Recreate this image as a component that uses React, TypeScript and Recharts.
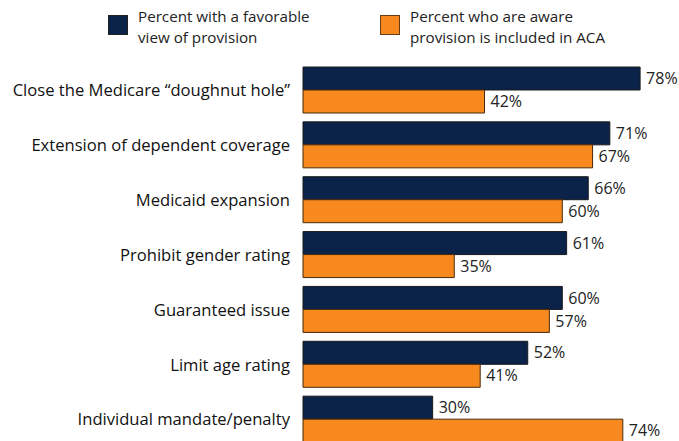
import { BarChart, Bar, XAxis, YAxis, LabelList } from 'recharts';

const provisions = [
  'Close the Medicare \u201cdoughnut hole\u201d',
  'Extension of dependent coverage',
  'Medicaid expansion',
  'Prohibit gender rating',
  'Guaranteed issue',
  'Limit age rating',
  'Individual mandate/penalty',
];
const favorable = [78, 71, 66, 61, 60, 52, 30];
const aware = [42, 67, 60, 35, 57, 41, 74];

const NAVY = '#0b2249';
const ORANGE = '#f7891f';
const FONT = '"Open Sans", Lato, sans-serif';

const data = provisions.map((name, i) => ({ name, favorable: favorable[i], aware: aware[i] }));

const legendItems = [
  { color: NAVY, border: '#222', left: 108, textLeft: 138, lines: ['Percent with a favorable', 'view of provision'] },
  { color: ORANGE, border: '#6b3a10', left: 380, textLeft: 410, lines: ['Percent who are aware', 'provision is included in ACA'] },
];

export default function App() {
  return (
    <div style={{ position: 'absolute', left: 0, top: 0, width: 679, height: 441, overflow: 'hidden', background: '#fff', fontFamily: FONT }}>
      {legendItems.map((it) => (
        <div key={it.left}>
          <div
            style={{
              position: 'absolute',
              left: it.left,
              top: 15,
              width: 18,
              height: 18,
              background: it.color,
              border: `1px solid ${it.border}`,
            }}
          />
          <div style={{ position: 'absolute', left: it.textLeft, top: 6, fontSize: 15.2, lineHeight: '21px', color: '#222' }}>
            {it.lines.map((l) => (
              <div key={l}>{l}</div>
            ))}
          </div>
        </div>
      ))}
      <BarChart
        width={679}
        height={447}
        data={data}
        layout="vertical"
        margin={{ top: 63, right: 0, bottom: 0, left: 0 }}
        barSize={23}
        barGap={0}
      >
        <XAxis type="number" domain={[0, 87]} hide />
        <YAxis
          type="category"
          dataKey="name"
          width={303}
          axisLine={false}
          tickLine={false}
          tickSize={0}
          tickMargin={13}
          tick={{ fill: '#111', fontSize: 16.6, fontFamily: FONT }}
        />
        <Bar dataKey="favorable" fill={NAVY} stroke="#1a1a1a" strokeWidth={1} isAnimationActive={false}>
          <LabelList dataKey="favorable" position="right" offset={6} formatter={(v: any) => `${v}%`} style={{ fill: '#222', fontSize: 16, fontFamily: FONT }} />
        </Bar>
        <Bar dataKey="aware" fill={ORANGE} stroke="#4a2a0a" strokeWidth={1} isAnimationActive={false}>
          <LabelList dataKey="aware" position="right" offset={6} formatter={(v: any) => `${v}%`} style={{ fill: '#222', fontSize: 16, fontFamily: FONT }} />
        </Bar>
      </BarChart>
    </div>
  );
}
